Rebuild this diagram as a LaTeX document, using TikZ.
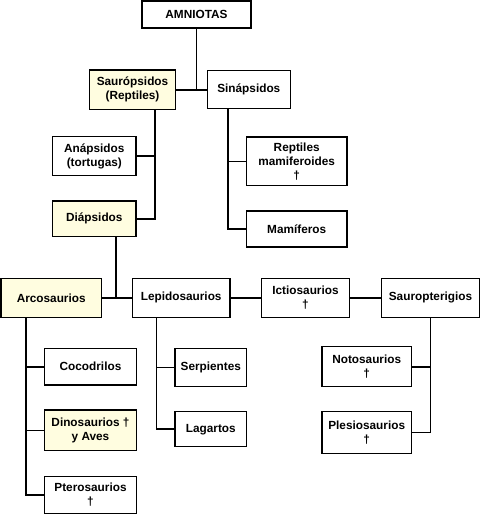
\documentclass[tikz,border=0pt]{standalone}
\usepackage{fontspec}
\setmainfont{Liberation Sans}
\definecolor{pale}{RGB}{255,253,224}
\begin{document}
\begin{tikzpicture}[x=1pt,y=-1pt,
  bx/.style={draw=black,line width=1.5pt,fill=white,align=center,inner sep=0pt,
    font=\bfseries\fontsize{11.8}{14}\selectfont},
  yel/.style={bx,fill=pale},
  ln/.style={draw=black,line width=1.6pt}]
\useasboundingbox (0,0) rectangle (480,515);
% nodes
\node[bx,minimum width=109,minimum height=27] (amn) at (196.5,14.5) {AMNIOTAS};
\node[yel,minimum width=86.4,minimum height=39.3] (sau) at (132.5,89.7) {Saurópsidos\\(Reptiles)};
\node[bx,minimum width=83,minimum height=38] (sin) at (248.8,89.7) {Sinápsidos};
\node[bx,minimum width=83.3,minimum height=39.4] (ana) at (94.3,156) {Anápsidos\\(tortugas)};
\node[yel,minimum width=83.3,minimum height=35.3] (dia) at (94.3,218.7) {Diápsidos};
\node[bx,minimum width=100.7,minimum height=48.7] (rep) at (296.7,161.3) {Reptiles\\mamiferoides\\†};
\node[bx,minimum width=100.7,minimum height=36] (mam) at (296.7,229) {Mamíferos};
\node[yel,minimum width=100.3,minimum height=39] (arc) at (51.2,297.8) {Arcosaurios};
\node[bx,minimum width=97.7,minimum height=39] (lep) at (181.2,297.8) {Lepidosaurios};
\node[bx,minimum width=88.4,minimum height=39] (ict) at (305.5,297.8) {Ictiosaurios\\†};
\node[bx,minimum width=97.6,minimum height=39] (sap) at (430.5,297.8) {Sauropterigios};
\node[bx,minimum width=92.4,minimum height=36.7] (coc) at (90.5,366.7) {Cocodrilos};
\node[yel,minimum width=92.4,minimum height=40.7] (din) at (90.5,430.3) {Dinosaurios †\\y Aves};
\node[bx,minimum width=92.4,minimum height=36.8] (pte) at (90.5,495.1) {Pterosaurios\\†};
\node[bx,minimum width=71.7,minimum height=38] (ser) at (210.8,367.3) {Serpientes};
\node[bx,minimum width=71.7,minimum height=35] (lag) at (210.8,429.2) {Lagartos};
\node[bx,minimum width=89.3,minimum height=40] (not) at (366.7,366.7) {Notosaurios\\†};
\node[bx,minimum width=89.3,minimum height=41.6] (ple) at (366.7,432.5) {Plesiosaurios\\†};
% trunk x positions
\coordinate (saux) at (154.7,0);
\coordinate (sinx) at (227.7,0);
\coordinate (diax) at (115.7,0);
\coordinate (arcx) at (25.7,0);
\coordinate (lepx) at (156.3,0);
% connectors
\draw[ln] (amn.south) -- (amn.south |- sau.east);
\draw[ln] (sau.east) -- (sin.west);
\draw[ln] (saux |- sau.south) |- (dia.east);
\draw[ln] (ana.east) -- (ana.east -| saux);
\draw[ln] (sinx |- sin.south) |- (mam.west);
\draw[ln] (rep.west) -- (rep.west -| sinx);
\draw[ln] (diax |- dia.south) -- (diax |- arc.east);
\draw[ln] (arc.east) -- (lep.west);
\draw[ln] (lep.east) -- (ict.west);
\draw[ln] (ict.east) -- (sap.west);
\draw[ln] (arcx |- arc.south) |- (pte.west);
\draw[ln] (coc.west) -- (coc.west -| arcx);
\draw[ln] (din.west) -- (din.west -| arcx);
\draw[ln] (lepx |- lep.south) |- (lag.west);
\draw[ln] (ser.west) -- (ser.west -| lepx);
\draw[ln] (sap.south) |- (ple.east);
\draw[ln] (not.east) -- (not.east -| sap.south);
\end{tikzpicture}
\end{document}
